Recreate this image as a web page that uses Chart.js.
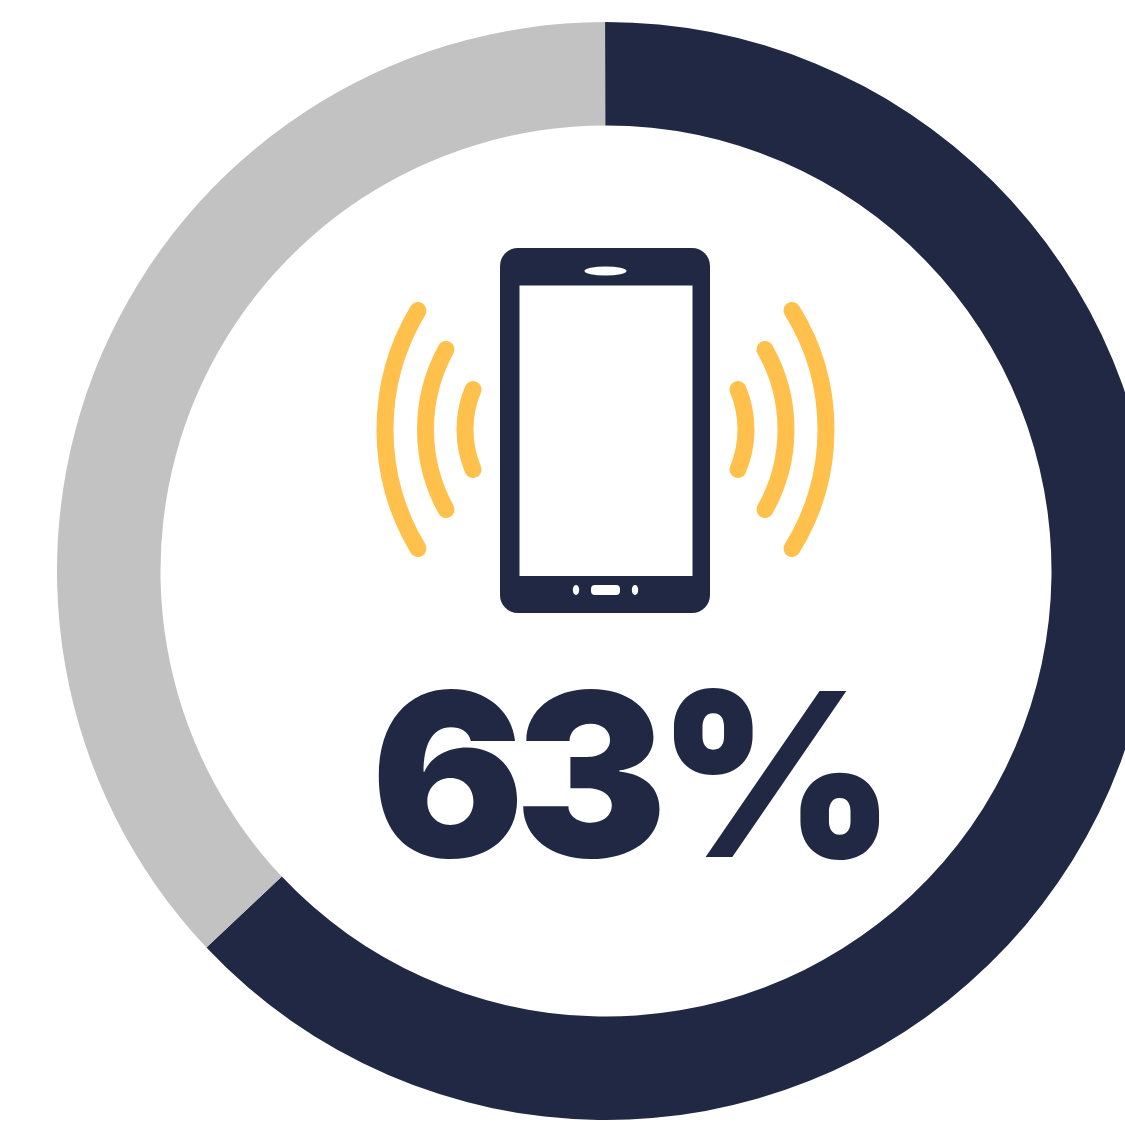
<!DOCTYPE html>
<html>
<head>
<meta charset="utf-8">
<title>63%</title>
<script src="https://cdn.jsdelivr.net/npm/chart.js@4"></script>
<style>
    html, body { margin: 0; padding: 0; background: #ffffff; }
    #wrap { width: 1125px; height: 1125px; overflow: hidden; }
    canvas { display: block; }
</style>
</head>
<body>
<div id="wrap"><canvas id="chart0" width="1212" height="1142"></canvas></div>
<script>
const labels = ["Yes", "No"];
const values = [63, 37];
const sliceColors = ["#202844", "#c2c2c2"];
const centerLabel = values[0] + "%";

const NAVY = "#202844";
const AMBER = "#ffc04c";

function roundRect(ctx, x, y, w, h, r, color) {
    ctx.fillStyle = color;
    ctx.beginPath();
    ctx.roundRect(x, y, w, h, r);
    ctx.fill();
}

function ellipse(ctx, x, y, rx, ry, color) {
    ctx.fillStyle = color;
    ctx.beginPath();
    ctx.ellipse(x, y, rx, ry, 0, 0, Math.PI * 2);
    ctx.fill();
}

// one signal arc, bulging away from the phone. dir is -1 for left, 1 for right
function wave(ctx, xMid, yMid, halfChord, sag, dir) {
    const r = (halfChord * halfChord + sag * sag) / (2 * sag);
    const a = Math.asin(halfChord / r);
    const cx = xMid - dir * r;
    ctx.beginPath();
    if (dir > 0) {
        ctx.arc(cx, yMid, r, -a, a);
    } else {
        ctx.arc(cx, yMid, r, Math.PI - a, Math.PI + a);
    }
    ctx.stroke();
}

function drawPhone(ctx) {
    roundRect(ctx, 500, 248, 210, 365, 18, NAVY);
    ctx.fillStyle = "#ffffff";
    ctx.fillRect(519.5, 285.5, 173, 290.5);
    ellipse(ctx, 605.5, 271, 21, 4.5, "#ffffff");
    ellipse(ctx, 576, 590, 3.2, 5, "#ffffff");
    ellipse(ctx, 635, 590, 3.2, 5, "#ffffff");
    roundRect(ctx, 591, 585, 29, 10, 4, "#ffffff");
}

function drawWaves(ctx) {
    ctx.save();
    ctx.strokeStyle = AMBER;
    ctx.lineWidth = 17;
    ctx.lineCap = "round";
    // outer, middle, inner on each side
    wave(ctx, 385, 429.5, 119, 33, -1);
    wave(ctx, 425.5, 429.5, 80, 20.5, -1);
    wave(ctx, 465, 429.5, 40, 8, -1);
    wave(ctx, 826, 429.5, 119, 34, 1);
    wave(ctx, 786, 429.5, 80, 21, 1);
    wave(ctx, 746, 429.5, 40, 8, 1);
    ctx.restore();
}

const centerPlugin = {
    id: "centerPlugin",
    afterDraw(chart) {
        const ctx = chart.ctx;
        ctx.save();
        drawWaves(ctx);
        drawPhone(ctx);
        ctx.fillStyle = NAVY;
        ctx.font = '900 228px Inter';
        ctx.letterSpacing = "-10px";
        ctx.textAlign = "left";
        ctx.textBaseline = "alphabetic";
        ctx.fillText(centerLabel, 371, 857);
        ctx.restore();
    },
};

const ctx = document.getElementById("chart0").getContext("2d");
window.chart = new Chart(ctx, {
    type: "doughnut",
    data: {
        labels: labels,
        datasets: [
            {
                data: values,
                backgroundColor: sliceColors,
                borderWidth: 0,
            },
        ],
    },
    options: {
        responsive: false,
        animation: false,
        radius: 549,
        cutout: "81.15%",
        rotation: -0.1,
        plugins: {
            legend: { display: false },
            tooltip: { enabled: false },
        },
    },
    plugins: [centerPlugin],
});
</script>
</body>
</html>
